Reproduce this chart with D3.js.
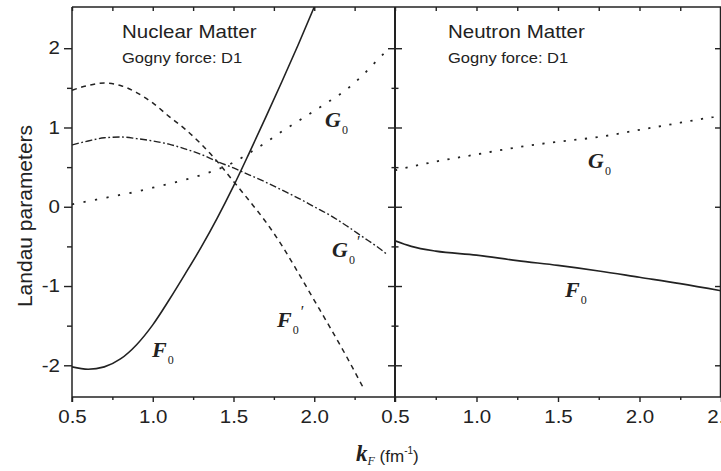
<!DOCTYPE html>
<html>
<head>
<meta charset="utf-8">
<script src="https://cdn.jsdelivr.net/npm/d3@7"></script>
<style>
  body { margin: 0; background: #fff; }
  svg { display: block; }
</style>
</head>
<body>
<svg id="chart" width="721" height="471"></svg>
<script>
// Landau parameters of nuclear and neutron matter (Gogny force D1) vs Fermi momentum

// ---- Nuclear matter ----
const kNucF0 = [0.5,0.6,0.7,0.8,0.9,1.0,1.1,1.2,1.3,1.4,1.5,1.6,1.7,1.8,1.9,2.0,2.1];
const nucF0  = [-2.02,-2.05,-2.02,-1.92,-1.74,-1.49,-1.18,-0.85,-0.51,-0.14,0.26,0.69,1.13,1.58,2.04,2.52,3.02];

const kNucF0p = [0.5,0.6,0.7,0.8,0.9,1.0,1.1,1.2,1.3,1.4,1.5,1.6,1.7,1.8,1.9,2.0,2.1,2.2,2.3];
const nucF0p  = [1.47,1.53,1.56,1.53,1.44,1.31,1.14,0.98,0.79,0.57,0.32,0.07,-0.19,-0.49,-0.83,-1.18,-1.53,-1.89,-2.27];

const kNucG0p = [0.5,0.6,0.7,0.8,0.9,1.0,1.1,1.2,1.3,1.4,1.5,1.6,1.7,1.8,1.9,2.0,2.1,2.2,2.3,2.4,2.45];
const nucG0p  = [0.78,0.83,0.87,0.88,0.86,0.83,0.79,0.73,0.66,0.57,0.49,0.40,0.31,0.21,0.11,0.00,-0.11,-0.24,-0.38,-0.52,-0.60];

const kNucG0 = [0.5,0.6,0.7,0.8,0.9,1.0,1.1,1.2,1.3,1.4,1.5,1.6,1.7,1.8,1.9,2.0,2.1,2.2,2.3,2.4,2.46];
const nucG0  = [0.03,0.07,0.11,0.15,0.19,0.24,0.29,0.34,0.40,0.47,0.56,0.68,0.81,0.95,1.08,1.21,1.34,1.48,1.66,1.87,1.99];

// ---- Neutron matter ----
const kNeuG0 = [0.5,0.75,1.0,1.25,1.5,1.75,2.0,2.25,2.5];
const neuG0  = [0.46,0.57,0.66,0.75,0.82,0.88,0.97,1.06,1.15];

const kNeuF0 = [0.5,0.6,0.75,1.0,1.25,1.5,1.75,2.0,2.25,2.5];
const neuF0  = [-0.43,-0.50,-0.56,-0.61,-0.68,-0.74,-0.81,-0.89,-0.97,-1.06];

// ---- Axes ----
const xDomain = [0.5, 2.5];
const yDomain = [-2.4, 2.52];
const xMajorLeft  = [0.5, 1.0, 1.5, 2.0];
const xMajorRight = [0.5, 1.0, 1.5, 2.0, 2.5];
const xMinor = [0.75, 1.25, 1.75, 2.25];
const yMajor = [-2, -1, 0, 1, 2];
const yMinor = [-1.5, -0.5, 0.5, 1.5];

// ---- Text ----
const panelTitles = ["Nuclear Matter", "Neutron Matter"];
const forceLabel = "Gogny force: D1";
const yTitle = "Landau parameters";

// Curve labels: [panel, symbol, primed, k, value at baseline]
const curveLabels = [
  [0, "G", false, 2.067, 1.00],
  [0, "G", true,  2.11, -0.63],
  [0, "F", true,  1.77, -1.52],
  [0, "F", false, 0.995, -1.89],
  [1, "G", false, 1.684, 0.49],
  [1, "F", false, 1.543, -1.14]
];

const plotTop = 7, plotBottom = 397, plotLeft = 72, plotMid = 395, plotRight = 721;
const ink = "#222";
const SX = 1.14; // sans labels are drawn slightly wide

const svg = d3.select("#chart");
const xL = d3.scaleLinear().domain(xDomain).range([plotLeft, plotMid]);
const xR = d3.scaleLinear().domain(xDomain).range([plotMid, plotRight]);
const y  = d3.scaleLinear().domain(yDomain).range([plotBottom, plotTop]);

function widen(sel) {
  sel.each(function () {
    const t = d3.select(this);
    const x = +t.attr("x") || 0, yy = +t.attr("y") || 0;
    t.attr("transform", `translate(${x},${yy}) scale(${SX},1) translate(${-x},${-yy})`);
  });
}

// clip paths per panel
const defs = svg.append("defs");
defs.append("clipPath").attr("id", "clipL").append("rect")
  .attr("x", plotLeft).attr("y", plotTop).attr("width", plotMid - plotLeft).attr("height", plotBottom - plotTop);
defs.append("clipPath").attr("id", "clipR").append("rect")
  .attr("x", plotMid).attr("y", plotTop).attr("width", plotRight - plotMid).attr("height", plotBottom - plotTop);

function styleAxis(g, showText) {
  g.select(".domain").remove();
  g.selectAll(".tick line").attr("stroke", ink).attr("stroke-width", 1.4);
  if (!showText) g.selectAll(".tick text").remove();
}

// bottom axes, with mirrored ticks along the top edge
function bottomAxis(x, majors) {
  const gMaj = svg.append("g").attr("transform", `translate(0,${plotBottom})`)
    .call(d3.axisBottom(x).tickValues(majors).tickSize(5).tickFormat(d3.format(".1f")));
  styleAxis(gMaj, true);
  gMaj.selectAll(".tick text")
    .attr("y", 13.5).attr("dy", "0.71em")
    .attr("font-family", "Liberation Sans, Arial, sans-serif")
    .attr("font-size", 18).attr("fill", ink);
  widen(gMaj.selectAll(".tick text"));
  const gMin = svg.append("g").attr("transform", `translate(0,${plotBottom})`)
    .call(d3.axisBottom(x).tickValues(xMinor).tickSize(3));
  styleAxis(gMin, false);
  const gTop = svg.append("g").attr("transform", `translate(0,${plotTop})`)
    .call(d3.axisBottom(x).tickValues(majors.concat(xMinor)).tickSize(4));
  styleAxis(gTop, false);
}
bottomAxis(xL, xMajorLeft);
bottomAxis(xR, xMajorRight);

// left y axis
const gY = svg.append("g").attr("transform", `translate(${plotLeft},0)`)
  .call(d3.axisLeft(y).tickValues(yMajor).tickSize(8).tickPadding(4).tickFormat(d => String(d)));
styleAxis(gY, true);
gY.selectAll(".tick text")
  .attr("font-family", "Liberation Sans, Arial, sans-serif")
  .attr("font-size", 18).attr("fill", ink);
widen(gY.selectAll(".tick text"));
const gYm = svg.append("g").attr("transform", `translate(${plotLeft},0)`)
  .call(d3.axisLeft(y).tickValues(yMinor).tickSize(5));
styleAxis(gYm, false);

// divider ticks on both sides
[d3.axisLeft, d3.axisRight].forEach(ax => {
  const g1 = svg.append("g").attr("transform", `translate(${plotMid},0)`)
    .call(ax(y).tickValues(yMajor).tickSize(7));
  styleAxis(g1, false);
  const g2 = svg.append("g").attr("transform", `translate(${plotMid},0)`)
    .call(ax(y).tickValues(yMinor).tickSize(3.5));
  styleAxis(g2, false);
});
// right edge ticks pointing inward
const gRe = svg.append("g").attr("transform", `translate(${plotRight},0)`)
  .call(d3.axisLeft(y).tickValues(yMajor).tickSize(6));
styleAxis(gRe, false);

// frame lines
const frame = svg.append("g").attr("stroke", ink).attr("stroke-width", 1.5).attr("fill", "none");
frame.append("line").attr("x1", plotLeft).attr("x2", plotRight).attr("y1", plotTop).attr("y2", plotTop);
frame.append("line").attr("x1", plotLeft).attr("x2", plotRight).attr("y1", plotBottom).attr("y2", plotBottom);
frame.append("line").attr("x1", plotLeft).attr("x2", plotLeft).attr("y1", plotTop).attr("y2", plotBottom + 5);
frame.append("line").attr("x1", plotMid).attr("x2", plotMid).attr("y1", plotTop).attr("y2", plotBottom + 5)
  .attr("stroke-width", 2);
frame.append("line").attr("x1", plotRight - 0.5).attr("x2", plotRight - 0.5).attr("y1", plotTop).attr("y2", plotBottom);

// curves
function drawCurve(x, ks, vs, clip, dash, width) {
  const pts = ks.map((k, i) => [k, vs[i]]);
  const line = d3.line().x(d => x(d[0])).y(d => y(d[1])).curve(d3.curveMonotoneX);
  svg.append("path").datum(pts)
    .attr("clip-path", `url(#${clip})`)
    .attr("d", line)
    .attr("fill", "none")
    .attr("stroke", ink)
    .attr("stroke-width", width)
    .attr("stroke-dasharray", dash)
    .attr("stroke-linecap", "butt");
}
drawCurve(xL, kNucF0,  nucF0,  "clipL", null, 1.6);
drawCurve(xL, kNucF0p, nucF0p, "clipL", "5,4.5", 1.5);
drawCurve(xL, kNucG0p, nucG0p, "clipL", "7,2.5,1.8,2.5", 1.4);
drawCurve(xL, kNucG0,  nucG0,  "clipL", "2.2,9.5", 1.8);
drawCurve(xR, kNeuG0,  neuG0,  "clipR", "2.2,8.5", 1.8);
drawCurve(xR, kNeuF0,  neuF0,  "clipR", null, 1.6);

// panel titles
[0, 1].forEach(i => {
  const tx = i === 0 ? 122 : 448;
  const t1 = svg.append("text").attr("x", tx).attr("y", 38)
    .attr("font-family", "Liberation Sans, Arial, sans-serif")
    .attr("font-size", 18).attr("fill", ink).text(panelTitles[i]);
  widen(t1);
  const t2 = svg.append("text").attr("x", tx).attr("y", 63)
    .attr("font-family", "Liberation Sans, Arial, sans-serif")
    .attr("font-size", 14.5).attr("fill", ink).text(forceLabel);
  widen(t2);
});

// curve labels
curveLabels.forEach(([p, sym, primed, k, v]) => {
  const x = p === 0 ? xL : xR;
  const t = svg.append("text")
    .attr("x", x(k)).attr("y", y(v))
    .attr("font-family", "Liberation Serif, Times New Roman, serif")
    .attr("font-style", "italic").attr("font-weight", "bold")
    .attr("font-size", 22).attr("fill", ink);
  t.append("tspan").text(sym);
  t.append("tspan").attr("dx", 1).attr("dy", 7).attr("font-size", 12)
    .attr("font-style", "normal").attr("font-weight", "normal").text("0");
  if (primed) {
    t.append("tspan").attr("dx", 1).attr("dy", -17).attr("font-size", 16)
      .attr("font-weight", "normal").text("\u2032");
  }
});

// y title
svg.append("text")
  .attr("transform", `translate(32,216) rotate(-90)`)
  .attr("text-anchor", "middle")
  .attr("font-family", "Liberation Sans, Arial, sans-serif")
  .attr("font-size", 21).attr("fill", ink)
  .text(yTitle);

// x title: k_F (fm^-1)
const xt = svg.append("text").attr("x", 356).attr("y", 461).attr("fill", ink);
xt.append("tspan").attr("font-family", "Liberation Serif, Times New Roman, serif")
  .attr("font-style", "italic").attr("font-weight", "bold").attr("font-size", 23).text("k");
xt.append("tspan").attr("font-family", "Liberation Serif, Times New Roman, serif")
  .attr("font-style", "italic").attr("font-size", 12).attr("dy", 4).text("F");
xt.append("tspan").attr("font-family", "Liberation Sans, Arial, sans-serif")
  .attr("font-size", 17).attr("dy", -3).text("\u00a0(fm");
xt.append("tspan").attr("font-family", "Liberation Sans, Arial, sans-serif")
  .attr("font-size", 10).attr("dy", -8).text("-1");
xt.append("tspan").attr("font-family", "Liberation Sans, Arial, sans-serif")
  .attr("font-size", 17).attr("dy", 8).text(")");
</script>
</body>
</html>
